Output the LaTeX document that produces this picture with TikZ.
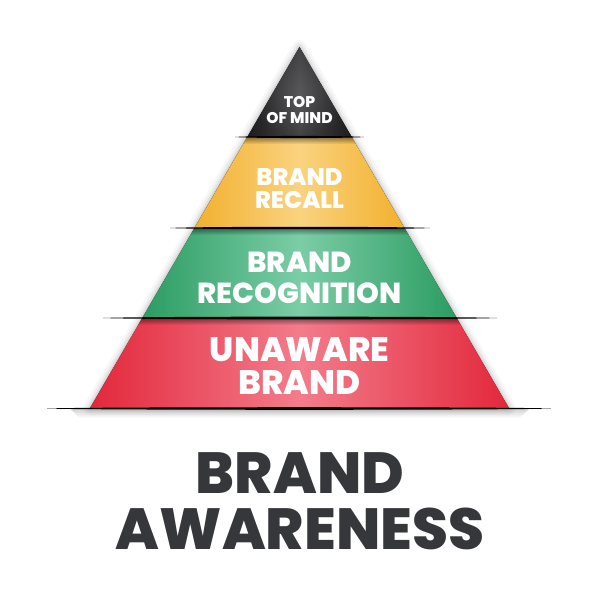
\documentclass[tikz,border=0pt]{standalone}
\usepackage{fontspec}
\IfFontExistsTF{Poppins ExtraBold}
  {\setmainfont{Poppins}[BoldFont={Poppins ExtraBold}]}
  {\setmainfont{Poppins}[BoldFeatures={FakeBold=1.5}]}
\usetikzlibrary{fadings}
\definecolor{blkE}{HTML}{1B1B1D}
\definecolor{blkM}{HTML}{4A4A4D}
\definecolor{yelE}{HTML}{F2B02E}
\definecolor{yelM}{HTML}{FAD37F}
\definecolor{grnE}{HTML}{2C9C62}
\definecolor{grnM}{HTML}{7BCDA6}
\definecolor{redE}{HTML}{E2283B}
\definecolor{redM}{HTML}{F37C8B}
\definecolor{titlec}{HTML}{35373A}
\tikzset{
  layertxt/.style={text=white, font=\bfseries, anchor=base, inner sep=0pt},
  titletxt/.style={text=titlec, font=\bfseries\fontsize{58}{58}\selectfont, anchor=base, inner sep=0pt},
  divider/.style={fill=black},
  topshade/.style={fill=black, path fading=south, fill opacity=0.45},
}
\begin{document}
\begin{tikzpicture}[x=1pt,y=-1pt]
\useasboundingbox[fill=white] (0,0) rectangle (600,600);
% soft outer shadow
\foreach \w/\o in {14/0.03,9/0.04,5/0.05,2/0.06}{
  \draw[black, line width=\w pt, opacity=\o, line join=round] (299.5,47) -- (508.9,408) -- (90.1,408) -- cycle;
}
% layers
\fill[shading=axis, left color=blkE, right color=blkE, middle color=blkM]
  (299.5,47) -- (351.7,137) -- (247.3,137) -- cycle;
\fill[shading=radial, inner color=white, outer color=blkM, opacity=0.12]
  (299.5,47) -- (351.7,137) -- (247.3,137) -- cycle;
\fill[shading=axis, left color=yelE, right color=yelE, middle color=yelM]
  (247.3,137) -- (351.7,137) -- (404.5,228) -- (194.5,228) -- cycle;
\fill[shading=axis, left color=grnE, right color=grnE, middle color=grnM]
  (194.5,228) -- (404.5,228) -- (456.7,318) -- (142.3,318) -- cycle;
\fill[shading=axis, left color=redE, right color=redE, middle color=redM]
  (142.3,318) -- (456.7,318) -- (508.9,408) -- (90.1,408) -- cycle;
% shadows at the top of each lower layer
\fill[topshade] (247.3,137) -- (351.7,137) -- (355.8,144) -- (243.2,144) -- cycle;
\fill[topshade] (194.5,228) -- (404.5,228) -- (408.6,235) -- (190.4,235) -- cycle;
\fill[topshade] (142.3,318) -- (456.7,318) -- (460.8,325) -- (138.2,325) -- cycle;
% shadow below the base
\fill[black, path fading=south, fill opacity=0.18] (70,408.5) -- (530,408.5) -- (520,418) -- (80,418) -- cycle;
% divider lines
\fill[divider] (235,137) .. controls (250,135.6) and (349,135.6) .. (364,137)
  .. controls (349,138.4) and (250,138.4) .. (235,137) -- cycle;
\fill[divider] (170,228) .. controls (195,226.4) and (405,226.4) .. (430,228)
  .. controls (405,229.6) and (195,229.6) .. (170,228) -- cycle;
\fill[divider] (103,318) .. controls (142,316.2) and (457,316.2) .. (497,318)
  .. controls (457,319.8) and (142,319.8) .. (103,318) -- cycle;
\fill[divider] (47,408.5) .. controls (90,406.8) and (509,406.8) .. (551,408.5)
  .. controls (509,410.2) and (90,410.2) .. (47,408.5) -- cycle;
% texts
\node[layertxt, font=\bfseries\fontsize{15.5}{15.5}\selectfont] (t1) at (299.5,107) {TOP};
\node[layertxt, font=\bfseries\fontsize{15.5}{15.5}\selectfont] (t2) at (299.5,123) {OF MIND};
\node[layertxt, font=\bfseries\fontsize{24}{24}\selectfont] (y1) at (299.5,185) {BRAND};
\node[layertxt, font=\bfseries\fontsize{24}{24}\selectfont] (y2) at (299.5,208) {RECALL};
\node[layertxt, font=\bfseries\fontsize{29}{29}\selectfont] (g1) at (299.5,272.5) {BRAND};
\node[layertxt, font=\bfseries\fontsize{29}{29}\selectfont] (g2) at (299.5,303) {RECOGNITION};
\node[layertxt, font=\bfseries\fontsize{34}{34}\selectfont] (r1) at (299.5,361) {UNAWARE};
\node[layertxt, font=\bfseries\fontsize{34}{34}\selectfont] (r2) at (299.5,394) {BRAND};
\node[titletxt] (h1) at (300,493) {BRAND};
\node[titletxt] (h2) at (300,549) {AWARENESS};
\end{tikzpicture}
\end{document}
